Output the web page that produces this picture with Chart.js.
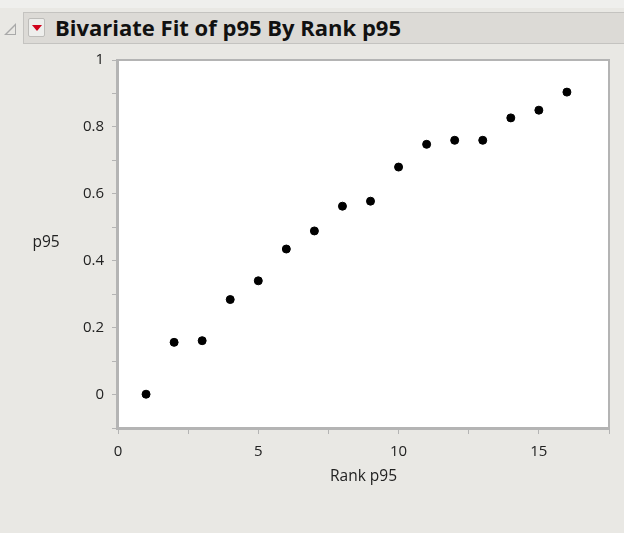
<!DOCTYPE html>
<html lang="en">
<head>
  <meta charset="UTF-8">
  <title>Bivariate Fit of p95 By Rank p95</title>
  <style>
    body{ margin:0; background:#e9e8e4; font-family:"Open Sans", "Noto Sans", sans-serif; }
    .wrap{ position:relative; width:624px; height:533px; overflow:hidden; }
    .topstrip{ position:absolute; left:0; top:0; width:624px; height:8px; background:#efefed; }
    .header{
      position:absolute; left:23px; top:12px; width:610px; height:32px;
      background:#dcdad6; border:1px solid #c4c3c0; box-sizing:border-box;
    }
    .disclose{ position:absolute; left:4px; top:23px; width:0; height:0;
      border-left:12px solid transparent; border-bottom:12px solid #a9a9a9; }
    .disclose:after{ content:""; position:absolute; left:-9px; top:3px;
      border-left:8px solid transparent; border-bottom:8px solid #e9e8e4; }
    .btn{ position:absolute; left:28px; top:18px; width:17px; height:19px;
      background:#eeeeec; border:1px solid #bdbcb9; border-radius:2px; box-sizing:border-box; }
    .btn:after{ content:""; position:absolute; left:3px; top:6px;
      border-left:5px solid transparent; border-right:5px solid transparent; border-top:6px solid #d0021b; }
    .title{ position:absolute; left:55px; top:12px; font-weight:bold; font-size:22px;
      color:#111; letter-spacing:0px; white-space:nowrap; }
    canvas{ position:absolute; left:0; top:0; }
  </style>
</head>
<body>
  <div class="wrap">
    <div class="topstrip"></div>
    <div class="header"></div>
    <div class="disclose"></div>
    <div class="btn"></div>
    <div class="title">Bivariate Fit of p95 By Rank p95</div>
    <canvas id="fit" width="624" height="533"></canvas>
  </div>

  <script src="https://cdn.jsdelivr.net/npm/chart.js"></script>
  <script type="text/javascript">
    // data
    const rank = [1, 2, 3, 4, 5, 6, 7, 8, 9, 10, 11, 12, 13, 14, 15, 16];
    const p95  = [0.001, 0.156, 0.161, 0.284, 0.340, 0.435, 0.489, 0.563, 0.578, 0.680, 0.748, 0.760, 0.760, 0.827, 0.850, 0.904];
    const xTickLabels = [0, 5, 10, 15];
    const yTickLabels = [0, 0.2, 0.4, 0.6, 0.8, 1];

    const pts = [];
    for(let i=0;i<rank.length;i++){
      pts.push({x:rank[i], y:p95[i]});
    }

    const fam = '"Open Sans", "Noto Sans", sans-serif';

    // white plot frame + axis titles
    const frame = {
      id:'frame',
      beforeDraw(chart){
        const a = chart.chartArea, c = chart.ctx;
        c.save();
        c.fillStyle = '#ffffff';
        c.fillRect(a.left, a.top, a.right-a.left, a.bottom-a.top);
        c.restore();
      },
      afterDraw(chart){
        const a = chart.chartArea, c = chart.ctx;
        c.save();
        c.strokeStyle = '#b4b4b4';
        c.lineWidth = 2;
        c.strokeRect(a.left-1, a.top, a.right-a.left+1, a.bottom-a.top+1);
        c.fillStyle = '#222';
        c.font = '15.5px ' + fam;
        c.textAlign = 'center';
        c.textBaseline = 'middle';
        c.fillText('p95', 46, (a.top+a.bottom)/2 - 1);
        c.fillText('Rank p95', (a.left+a.right)/2, a.bottom + 49);
        c.restore();
      }
    };

    const tickFont = {family:fam, size:15};

    new Chart(document.getElementById('fit'), {
      type:'scatter',
      data:{
        datasets:[{
          label:'p95',
          data:pts,
          backgroundColor:'#000',
          borderColor:'#000',
          pointRadius:4,
          pointHoverRadius:4
        }]
      },
      options:{
        responsive:false,
        animation:false,
        layout:{ padding:{ top:60, right:15, left:0, bottom:0 } },
        plugins:{ legend:{display:false}, tooltip:{enabled:false} },
        scales:{
          x:{
            type:'linear', min:0, max:17.5,
            border:{ color:'#b4b4b4', width:2 },
            grid:{ drawOnChartArea:false, color:'#b4b4b4', tickLength:6, lineWidth:1 },
            ticks:{
              stepSize:2.5, autoSkip:false, maxRotation:0, color:'#222', font:tickFont, padding:9,
              callback:(v)=> xTickLabels.includes(v) ? String(v) : ''
            },
            afterFit(s){ s.height = 105; }
          },
          y:{
            type:'linear', min:-0.1, max:1,
            border:{ color:'#b4b4b4', width:2 },
            grid:{ drawOnChartArea:false, color:'#b4b4b4', tickLength:6, lineWidth:1 },
            ticks:{
              stepSize:0.1, autoSkip:false, color:'#222', font:tickFont, padding:8,
              callback:(v)=>{
                const r = Math.round(v*10)/10;
                return yTickLabels.includes(r) ? String(r) : '';
              }
            },
            afterFit(s){ s.width = 118; }
          }
        }
      },
      plugins:[frame]
    });
  </script>
</body>
</html>
